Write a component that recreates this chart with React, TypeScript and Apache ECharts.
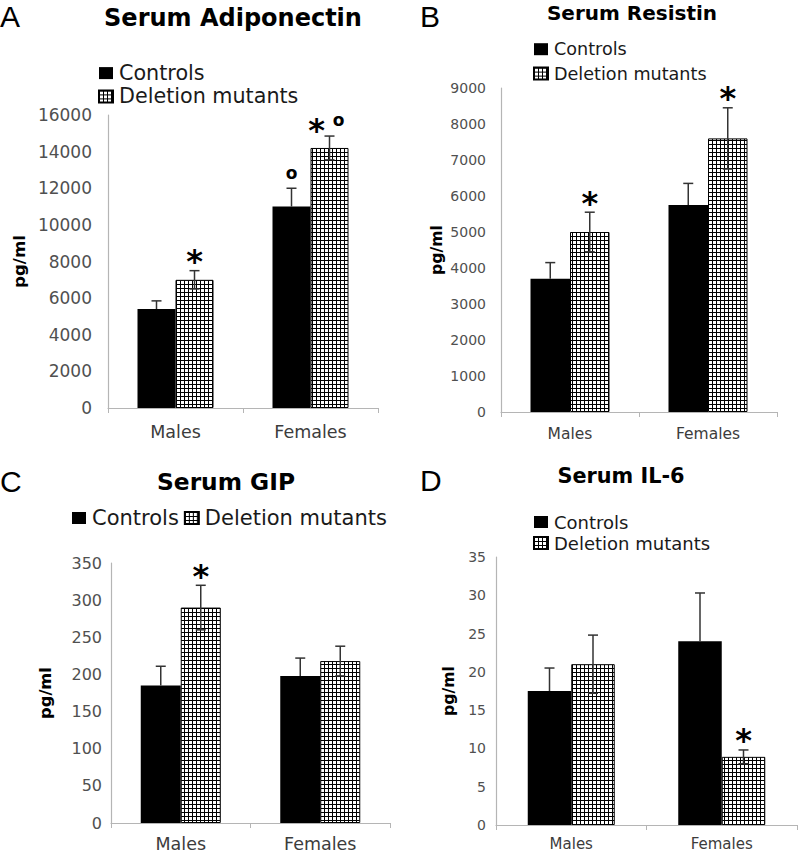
import React, { useEffect, useRef } from 'react';
import * as echarts from 'echarts';

// ---------- data ----------
const categories = ['Males', 'Females'];
const seriesNames = ['Controls', 'Deletion mutants'];

const adipoControls = [5400, 11000];
const adipoControlsErr = [450, 1000];
const adipoMutants = [7000, 14200];
const adipoMutantsErr = [500, 650];
const adipoControlsMarks = ['', 'o'];
const adipoMutantsMarks = ['*', '*o'];

const resistinControls = [3700, 5750];
const resistinControlsErr = [450, 600];
const resistinMutants = [5000, 7600];
const resistinMutantsErr = [550, 850];
const resistinControlsMarks = ['', ''];
const resistinMutantsMarks = ['*', '*'];

const gipControls = [185, 198];
const gipControlsErr = [26, 24];
const gipMutants = [290, 218];
const gipMutantsErr = [30, 20];
const gipControlsMarks = ['', ''];
const gipMutantsMarks = ['*', ''];

const il6Controls = [17.5, 24];
const il6ControlsErr = [3, 6.3];
const il6Mutants = [21, 8.9];
const il6MutantsErr = [3.8, 0.9];
const il6ControlsMarks = ['', ''];
const il6MutantsMarks = ['', '*'];

const panelLetters = ['A', 'B', 'C', 'D'];
const panelTitles = ['Serum Adiponectin', 'Serum Resistin', 'Serum GIP', 'Serum IL-6'];
const yMax = [16000, 9000, 350, 35];
const yInterval = [2000, 1000, 50, 5];
const yName = 'pg/ml';

// ---------- styles / layout ----------
const FONT = 'DejaVu Sans';
const ERR_COLOR = '#333333';
const AXIS_COLOR = '#b5b5b5';
const LABEL_COLOR = '#505050';

const panels = [
  {
    grid: { left: 108, top: 115, width: 270, height: 293 },
    barW: 38, tickFont: 17, tickMargin: 16, xFont: 17.5, xMargin: 15,
    nameFont: 16.7, nameGap: 81,
    title: { x: 233, y: 18, size: 24 },
    letter: { x: 0, y: 16 },
    legend: { left: 98, top: 62.6, orient: 'vertical', font: 20.7, gap: 2.3 },
  },
  {
    grid: { left: 501, top: 88, width: 276, height: 324 },
    barW: 39.5, tickFont: 14, tickMargin: 15, xFont: 15.5, xMargin: 14,
    nameFont: 15.7, nameGap: 57,
    title: { x: 632, y: 12.5, size: 20 },
    letter: { x: 420, y: 16 },
    legend: { left: 533, top: 40.2, orient: 'vertical', font: 17.6, gap: 6.4 },
  },
  {
    grid: { left: 111, top: 563, width: 279, height: 260 },
    barW: 40, tickFont: 16, tickMargin: 9, xFont: 17.5, xMargin: 12,
    nameFont: 16.3, nameGap: 58,
    title: { x: 226, y: 481.5, size: 23.3 },
    letter: { x: 0, y: 481 },
    legend: { left: 72, top: 507.5, orient: 'horizontal', font: 21, gap: 5 },
  },
  {
    grid: { left: 496, top: 557, width: 301, height: 268 },
    barW: 43.5, tickFont: 14, tickMargin: 10, xFont: 15, xMargin: 11.5,
    nameFont: 15.7, nameGap: 40,
    title: { x: 621, y: 475.5, size: 20.8 },
    letter: { x: 420, y: 480 },
    legend: { left: 533, top: 513, orient: 'vertical', font: 18, gap: 3 },
  },
];

const panelData = [
  [adipoControls, adipoControlsErr, adipoControlsMarks, adipoMutants, adipoMutantsErr, adipoMutantsMarks],
  [resistinControls, resistinControlsErr, resistinControlsMarks, resistinMutants, resistinMutantsErr, resistinMutantsMarks],
  [gipControls, gipControlsErr, gipControlsMarks, gipMutants, gipMutantsErr, gipMutantsMarks],
  [il6Controls, il6ControlsErr, il6ControlsMarks, il6Mutants, il6MutantsErr, il6MutantsMarks],
] as any[];

function makeGridPattern() {
  const c = document.createElement('canvas');
  c.width = 4;
  c.height = 4;
  const ctx = c.getContext('2d')!;
  ctx.fillStyle = '#ffffff';
  ctx.fillRect(0, 0, 4, 4);
  ctx.fillStyle = '#000000';
  ctx.fillRect(0, 0, 4, 1);
  ctx.fillRect(0, 0, 1, 4);
  return { image: c, repeat: 'repeat', imageWidth: 4, imageHeight: 4 };
}

function errorSeries(gi: number, values: number[], errs: number[], marks: string[], sign: number, barW: number) {
  return {
    type: 'custom',
    name: 'err' + gi + '_' + sign,
    xAxisIndex: gi,
    yAxisIndex: gi,
    silent: true,
    z: 10,
    data: values.map((v, i) => [i, v, errs[i]]),
    renderItem: (params: any, api: any) => {
      const i = api.value(0);
      const v = api.value(1);
      const e = api.value(2);
      const top = api.coord([i, v + e]);
      const mid = api.coord([i, v]);
      const bot = api.coord([i, v - e]);
      const x = top[0] + (sign * barW) / 2;
      const ls = { stroke: ERR_COLOR, lineWidth: 1.5 };
      // the lower half sits inside the solid black control bars and is invisible there
      const lowY = sign > 0 ? bot[1] : mid[1];
      const children: any[] = [
        { type: 'line', shape: { x1: x, y1: top[1], x2: x, y2: lowY }, style: ls },
        { type: 'line', shape: { x1: x - 5, y1: top[1], x2: x + 5, y2: top[1] }, style: ls },
      ];
      if (sign > 0) {
        children.push({ type: 'line', shape: { x1: x - 5, y1: bot[1], x2: x + 5, y2: bot[1] }, style: ls });
      }
      const m = marks[params.dataIndex];
      const star = (cx: number, cy: number) => ({
        type: 'text',
        style: { text: '*', x: cx, y: cy + 7.5, align: 'center', verticalAlign: 'middle', font: `bold 32px "${FONT}"`, fill: '#000' },
      });
      const ring = (cx: number, cy: number) => ({
        type: 'text',
        style: { text: 'o', x: cx, y: cy - 1, align: 'center', verticalAlign: 'middle', font: `bold 17px "${FONT}"`, fill: '#000' },
      });
      if (m === '*') children.push(star(x, top[1] - 17));
      else if (m === 'o') children.push(ring(x, top[1] - 14));
      else if (m === '*o') {
        children.push(star(x - 13, top[1] - 14));
        children.push(ring(x + 9, top[1] - 15));
      }
      return { type: 'group', children };
    },
  };
}

export default function App() {
  const ref = useRef<HTMLDivElement>(null);
  useEffect(() => {
    document.body.style.margin = '0';
    if (!ref.current) return;
    const chart = echarts.init(ref.current, undefined, { renderer: 'svg' });
    const pattern = makeGridPattern();

    const grid: any[] = [];
    const xAxis: any[] = [];
    const yAxis: any[] = [];
    const series: any[] = [];
    const legend: any[] = [];
    const graphic: any[] = [];

    panels.forEach((p, gi) => {
      const [cv, ce, cm, mv, me, mm] = panelData[gi];
      grid.push({ ...p.grid, containLabel: false });
      xAxis.push({
        type: 'category',
        gridIndex: gi,
        data: categories,
        axisLine: { lineStyle: { color: AXIS_COLOR, width: 1.2 } },
        axisTick: { show: true, length: 5, lineStyle: { color: AXIS_COLOR } },
        axisLabel: { fontFamily: FONT, fontSize: p.xFont, color: '#3c3c3c', margin: p.xMargin },
      });
      yAxis.push({
        type: 'value',
        gridIndex: gi,
        min: 0,
        max: yMax[gi],
        interval: yInterval[gi],
        name: yName,
        nameLocation: 'middle',
        nameRotate: 90,
        nameGap: p.nameGap,
        nameTextStyle: { fontFamily: FONT, fontWeight: 'bold', fontSize: p.nameFont, color: '#000' },
        axisLine: { show: true, lineStyle: { color: AXIS_COLOR, width: 1.2 } },
        axisTick: { show: false },
        splitLine: { show: false },
        axisLabel: {
          fontFamily: FONT,
          fontSize: p.tickFont,
          color: LABEL_COLOR,
          margin: p.tickMargin,
          formatter: (v: number) => String(v),
        },
      });
      series.push({
        type: 'bar',
        name: seriesNames[0],
        xAxisIndex: gi,
        yAxisIndex: gi,
        data: cv,
        barWidth: p.barW,
        barGap: '0%',
        itemStyle: { color: '#000000' },
      });
      series.push({
        type: 'bar',
        name: seriesNames[1],
        xAxisIndex: gi,
        yAxisIndex: gi,
        data: mv,
        barWidth: p.barW,
        barGap: '0%',
        itemStyle: { color: pattern, borderColor: '#000000', borderWidth: 1 },
      });
      series.push(errorSeries(gi, cv, ce, cm, -1, p.barW));
      series.push(errorSeries(gi, mv, me, mm, 1, p.barW));

      legend.push({
        data: seriesNames,
        orient: p.legend.orient,
        left: p.legend.left,
        top: p.legend.top,
        padding: 0,
        itemGap: p.legend.gap,
        itemWidth: 14,
        itemHeight: 12,
        icon: 'rect',
        selectedMode: false,
        textStyle: { fontFamily: FONT, fontSize: p.legend.font, color: '#1a1a1a', padding: [0, 0, 0, 1] },
      });

      graphic.push({
        type: 'text',
        x: p.title.x,
        y: p.title.y,
        style: {
          text: panelTitles[gi],
          align: 'center',
          verticalAlign: 'middle',
          font: `bold ${p.title.size}px "${FONT}"`,
          fill: '#000',
        },
      });
      graphic.push({
        type: 'text',
        x: p.letter.x,
        y: p.letter.y,
        style: {
          text: panelLetters[gi],
          align: 'left',
          verticalAlign: 'middle',
          font: '30px "Liberation Sans"',
          fill: '#000',
        },
      });
    });

    chart.setOption({
      animation: false,
      backgroundColor: '#ffffff',
      grid,
      xAxis,
      yAxis,
      series,
      legend,
      graphic,
    });
    return () => chart.dispose();
  }, []);
  return <div ref={ref} style={{ width: 800, height: 855 }} />;
}
